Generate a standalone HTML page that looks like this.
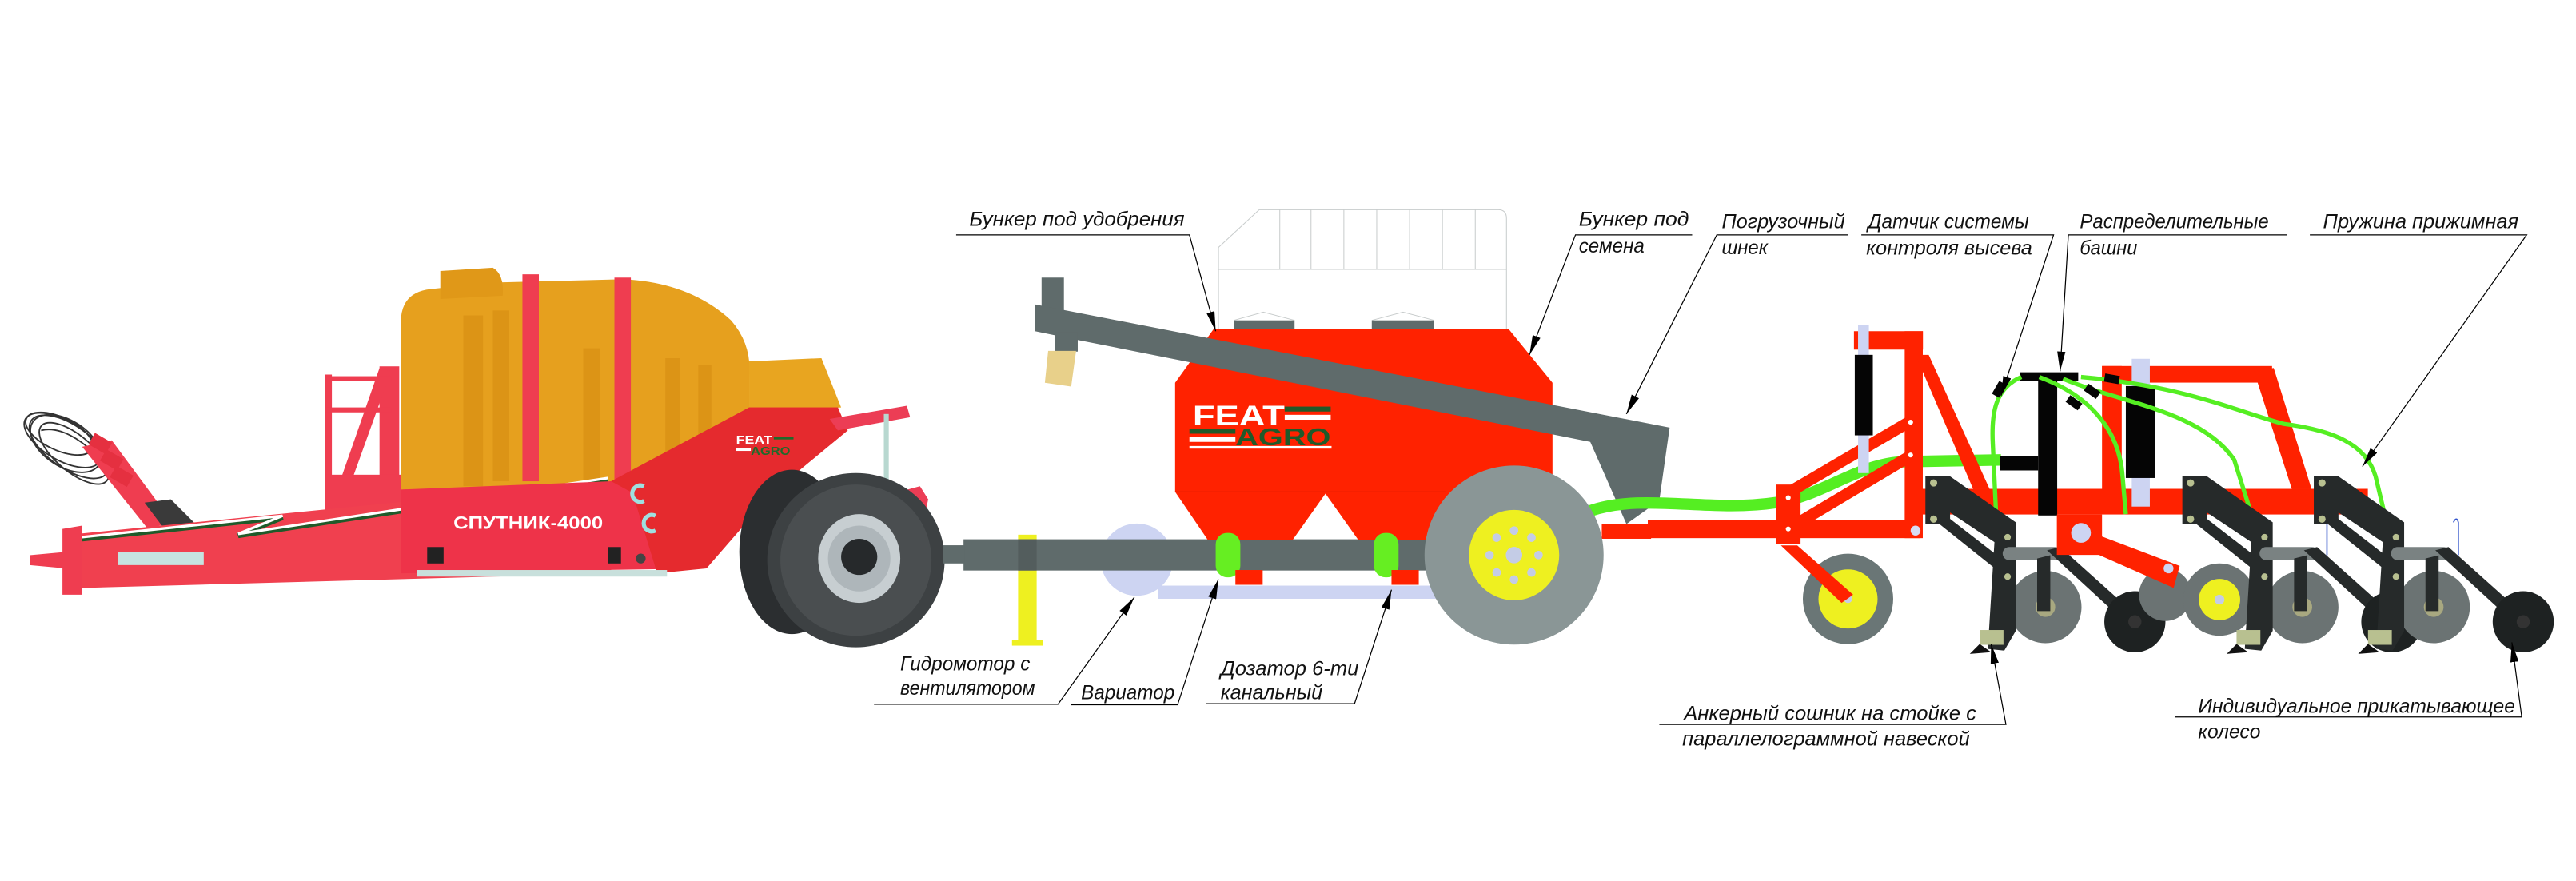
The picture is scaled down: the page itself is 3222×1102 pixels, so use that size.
<!DOCTYPE html>
<html><head><meta charset="utf-8">
<style>
html,body{margin:0;padding:0;background:#fff;}
svg{display:block;}
.t{font-family:"Liberation Sans",sans-serif;font-style:italic;font-size:12.3px;fill:#111;}
.l{stroke:#000;stroke-width:0.6;fill:none;}
</style></head><body>
<svg width="3222" height="1102" viewBox="0 0 1568 536.3" xmlns="http://www.w3.org/2000/svg">
<defs>
<marker id="a" viewBox="0 0 12 5" refX="12" refY="2.5" markerWidth="12" markerHeight="5" markerUnits="userSpaceOnUse" orient="auto"><path d="M0,0 L12,2.5 L0,5z" fill="#000"/></marker>
</defs>
<rect width="1568" height="536.3" fill="#fff"/>

<!-- ============ LEFT TRAILER ============ -->
<g fill="none" stroke="#333" stroke-width="0.9">
<ellipse cx="38" cy="268" rx="26" ry="12" transform="rotate(30 38 268)"/>
<ellipse cx="42" cy="272" rx="28" ry="13" transform="rotate(35 42 272)"/>
<ellipse cx="36" cy="264" rx="22" ry="10" transform="rotate(25 36 264)"/>
<ellipse cx="45" cy="276" rx="26" ry="11" transform="rotate(40 45 276)"/>
<ellipse cx="40" cy="270" rx="24" ry="14" transform="rotate(33 40 270)"/>
<path d="M25,262 C40,258 60,275 70,292"/>
</g>
<path d="M50,272 L68,268 L105,318 L90,322z" fill="#ef3d50"/>
<rect x="55" y="266" width="12" height="8" fill="#e53040" transform="rotate(30 61 270)"/>
<rect x="62" y="276" width="12" height="8" fill="#e53040" transform="rotate(30 68 280)"/>
<rect x="68" y="286" width="12" height="8" fill="#e53040" transform="rotate(30 74 290)"/>
<path d="M88,306 L104,304 L118,318 L100,322z" fill="#3a3a3a"/>

<!-- tank -->
<path d="M244,300 L244,196 Q244,178 262,176 L300,172 L380,170 Q420,172 445,195 Q458,210 456,230 L456,300z" fill="#e6a01e"/>
<path d="M268,165 L300,163 Q307,167 306,180 L268,182z" fill="#e09818"/>
<path d="M456,220 L500,218 L512,248 L456,252z" fill="#e8a520"/>
<g fill="#d88f14" opacity="0.7">
<rect x="282" y="192" width="12" height="104"/><rect x="300" y="189" width="10" height="104"/>
<rect x="355" y="212" width="10" height="84"/><rect x="405" y="218" width="9" height="76"/>
<rect x="425" y="222" width="8" height="72"/>
</g>
<rect x="318" y="167" width="10" height="126" fill="#ef3d50"/>
<rect x="374" y="169" width="10" height="124" fill="#ef3d50"/>

<!-- ladder -->
<g fill="#ef3d50">
<rect x="198" y="228" width="4" height="122"/>
<rect x="231" y="223" width="12" height="126"/>
<path d="M231,224 L238,226 L215,290 L208,290z"/>
<rect x="198" y="229" width="40" height="3"/>
<rect x="198" y="248" width="40" height="3"/>
<rect x="198" y="289" width="46" height="60"/>
</g>

<!-- drawbar -->
<path d="M47,325 L372,293 L372,349 L47,358z" fill="#f0404f"/>
<path d="M38,322 L50,320 L50,362 L38,362z" fill="#ef3d50"/>
<path d="M18,338 L40,336 L40,346 L18,344z" fill="#ef3d50"/>
<rect x="72" y="336" width="52" height="8" fill="#c6e3e0"/>
<path d="M50,328 L172,315 L145,326 L370,292" fill="none" stroke="#1f5a2a" stroke-width="3.2"/>
<path d="M50,327 L172,314 L145,325 L370,291" fill="none" stroke="#fff" stroke-width="1.6"/>

<!-- front red body -->
<path d="M244,298 L372,293 L456,248 L510,248 L516,262 L470,300 L430,346 L244,349z" fill="#ee3349"/>
<path d="M372,293 L456,248 L510,248 L516,262 L470,300 L430,346 L400,349 L385,300z" fill="#e52a2e"/>
<rect x="254" y="347" width="152" height="4" fill="#c8e0dc"/>
<rect x="260" y="333" width="10" height="10" fill="#222"/>
<rect x="370" y="333" width="8" height="10" fill="#222"/>
<circle cx="390" cy="340" r="3" fill="#444"/>
<path d="M392,296 a5,5 0 1,0 0,9" fill="none" stroke="#9fe0e0" stroke-width="2.5"/>
<path d="M399,314 a5,5 0 1,0 0,9" fill="none" stroke="#9fe0e0" stroke-width="2.5"/>
<text x="276" y="322" font-family="Liberation Sans,sans-serif" font-weight="bold" font-size="11" fill="#fff" textLength="91" lengthAdjust="spacingAndGlyphs">СПУТНИК-4000</text>
<text x="448" y="270" font-family="Liberation Sans,sans-serif" font-weight="bold" font-size="7" fill="#fff" textLength="22" lengthAdjust="spacingAndGlyphs">FEAT</text>
<text x="457" y="277" font-family="Liberation Sans,sans-serif" font-weight="bold" font-size="7" fill="#1f6a2a" textLength="24" lengthAdjust="spacingAndGlyphs">AGRO</text>
<rect x="471" y="266" width="12" height="1.5" fill="#1f6a2a"/><rect x="448" y="273" width="9" height="1.5" fill="#fff"/>
<path d="M505,255 L552,247 L554,254 L510,262z" fill="#ec3d55"/>
<rect x="538" y="252" width="3" height="48" fill="#b8d8d0"/>
<path d="M545,300 L560,296 L565,304 L562,318 L548,325z" fill="#ec3d55"/>
<!-- wheels -->
<ellipse cx="482" cy="336" rx="32" ry="50" fill="#2b2e30"/>
<ellipse cx="521" cy="341" rx="54" ry="53" fill="#3d4143"/>
<ellipse cx="521" cy="341" rx="46" ry="46" fill="#4a4e50"/>
<ellipse cx="523" cy="340" rx="25" ry="27" fill="#c7ced1"/>
<ellipse cx="523" cy="340" rx="19" ry="20" fill="#aeb6ba"/>
<circle cx="523" cy="339" r="11" fill="#26292b"/>
<rect x="574" y="332" width="14" height="10" fill="#5f6b6b"/>

<!-- ============ SEEDER ============ -->
<path d="M741.7,200.5 L741.7,150.6 L766.5,127.7 L912,127.7 Q917,127.7 917,133 L917,200.5z" fill="#fff" stroke="#c8cccc" stroke-width="0.5"/>
<g stroke="#c8cccc" stroke-width="0.5">
<line x1="741.7" y1="164" x2="917" y2="164"/>
<line x1="779" y1="127.7" x2="779" y2="164"/><line x1="798" y1="127.7" x2="798" y2="164"/>
<line x1="818" y1="127.7" x2="818" y2="164"/><line x1="838" y1="127.7" x2="838" y2="164"/>
<line x1="858" y1="127.7" x2="858" y2="164"/><line x1="878" y1="127.7" x2="878" y2="164"/>
<line x1="898" y1="127.7" x2="898" y2="164"/>
<path d="M751,195 L769,190 L788,195 M835,195 L854,190 L873,195" fill="none"/>
</g>
<rect x="751" y="195" width="37" height="6" fill="#5f6b6b"/>
<rect x="835" y="195" width="38" height="6" fill="#5f6b6b"/>
<circle cx="692" cy="340.7" r="22" fill="#cdd4f2"/>
<rect x="705" y="356.5" width="170" height="8" fill="#cdd4f2"/>
<rect x="619.7" y="325.5" width="11.3" height="66" fill="#eef020"/>
<rect x="616" y="389.6" width="18.6" height="3.4" fill="#eef020"/>
<rect x="586.5" y="328.3" width="285" height="19" fill="#5f6b6b"/>
<rect x="574" y="332" width="13" height="11" fill="#5f6b6b"/>
<rect x="619.7" y="328.3" width="11.3" height="19" fill="#535d5d"/>
<path d="M738.6,200.5 L918.5,200.5 L945,233 L945,305 L876,329 L827,329 L806.8,300.5 L786.6,329 L735.4,329 L715.3,299.4 L715.3,233z" fill="#ff2200"/>
<line x1="715.3" y1="299.4" x2="880" y2="299.4" stroke="#e81e00" stroke-width="0.6"/>
<rect x="724" y="243" width="86.5" height="30" fill="#ff2200"/>
<text x="726" y="259" font-family="Liberation Sans,sans-serif" font-weight="bold" font-size="17" fill="#fff" textLength="56" lengthAdjust="spacingAndGlyphs">FEAT</text>
<rect x="782" y="247.5" width="28" height="3" fill="#1f5a2a"/><rect x="782" y="252.5" width="28" height="3" fill="#fff"/>
<rect x="724" y="261" width="28" height="3" fill="#1f5a2a"/><rect x="724" y="266" width="28" height="3" fill="#fff"/>
<text x="752" y="271" font-family="Liberation Sans,sans-serif" font-weight="bold" font-size="15" fill="#1f5a2a" textLength="58" lengthAdjust="spacingAndGlyphs">AGRO</text>
<rect x="724" y="271.5" width="86.5" height="1.6" fill="#fff"/>
<rect x="634" y="169" width="13.6" height="20" fill="#5f6b6b"/>
<path d="M630,185.3 L1016.3,260.3 L1010,304.8 L990,319 L968,269 L656.3,207 L630,201.6z" fill="#5f6b6b"/>
<rect x="642" y="202" width="14" height="12" fill="#5f6b6b"/>
<path d="M638,213.6 L655,213.6 L652,235.3 L636,233z" fill="#e8d08a"/>
<rect x="740" y="324.4" width="15" height="27" rx="7" fill="#66ee22"/>
<rect x="836.3" y="324.4" width="15" height="27" rx="7" fill="#66ee22"/>
<rect x="752" y="347" width="16.6" height="9" fill="#ff2200"/>
<rect x="847" y="347" width="16.6" height="9" fill="#ff2200"/>
<path d="M968,311 C1000,300 1040,312 1081,306 C1110,302 1130,282 1160,281 L1218,280" fill="none" stroke="#55ee22" stroke-width="7"/>
<rect x="975" y="319" width="30" height="9" fill="#ff2200"/>
<rect x="1003" y="316.6" width="166" height="11" fill="#ff2200"/>
<circle cx="921.6" cy="337.9" r="54.5" fill="#8a9696"/>
<circle cx="921.6" cy="337.9" r="27.5" fill="#eef020"/>
<g fill="#c4cce6">
<circle cx="921.6" cy="337.9" r="5"/>
<circle cx="921.6" cy="323" r="2.6"/><circle cx="921.6" cy="352.8" r="2.6"/>
<circle cx="906.7" cy="337.9" r="2.6"/><circle cx="936.5" cy="337.9" r="2.6"/>
<circle cx="911" cy="327.3" r="2.6"/><circle cx="932.2" cy="327.3" r="2.6"/>
<circle cx="911" cy="348.5" r="2.6"/><circle cx="932.2" cy="348.5" r="2.6"/>
</g>

<!-- ============ PLANTER ============ -->
<g fill="#ff2200">
<rect x="1168.5" y="297.6" width="272.8" height="15.6"/>
<rect x="1159.4" y="201.6" width="11" height="126"/>
<rect x="1128.5" y="201.6" width="42" height="11.2"/>
<path d="M1166,216 L1174,216 L1211,297.6 L1201,297.6z"/>
<rect x="1081" y="295" width="15" height="36"/>
<rect x="1279.5" y="222.8" width="103.5" height="10.1"/>
<rect x="1279.5" y="222.8" width="12" height="77"/>
<path d="M1372,226 L1384,224 L1407,297.6 L1395,297.6z"/>
</g>
<g stroke="#ff2200" stroke-width="7">
<line x1="1088.5" y1="300" x2="1163" y2="256.3"/>
<line x1="1088.5" y1="322" x2="1163" y2="277.5"/>
</g>
<circle cx="1163" cy="257" r="1.5" fill="#fff"/><circle cx="1163" cy="277" r="1.5" fill="#fff"/>
<circle cx="1088.5" cy="303" r="1.5" fill="#fff"/><circle cx="1088.5" cy="322" r="1.5" fill="#fff"/>
<circle cx="1166" cy="323" r="3" fill="#d8dcf4"/>
<circle cx="1124.9" cy="364.6" r="27.5" fill="#6a7676"/>
<circle cx="1124.9" cy="364.6" r="18" fill="#eef020"/>
<circle cx="1124.9" cy="364.6" r="2.5" fill="#c4cce6"/>
<path d="M1084,332 L1094,332 L1128,362 L1121,367z" fill="#ff2200"/>
<rect x="1131" y="198" width="6.6" height="90" fill="#cdd4f2"/>
<rect x="1129" y="216" width="11" height="49" fill="#050505"/>
<rect x="1297.6" y="218.4" width="11" height="90" fill="#cdd4f2"/>
<rect x="1294" y="235" width="18" height="56" fill="#050505"/>
<rect x="1229.6" y="226.6" width="35.4" height="5.2" fill="#050505"/>
<rect x="1240.6" y="231.8" width="11.6" height="82" fill="#050505"/>
<path d="M1217.6,277.5 L1240.6,277.5 L1240.6,286.4 L1217.6,286.4z" fill="#050505"/>
<g fill="none" stroke="#55ee22" stroke-width="2.6">
<path d="M1230.4,229.5 C1215,236 1212,250 1213,270 L1215,313"/>
<path d="M1241.3,229.5 C1270,240 1290,260 1292,290 L1294,313"/>
<path d="M1255.8,230.6 C1290,245 1340,250 1360,280 L1370.4,313"/>
<path d="M1266.7,229.5 C1330,235 1360,250 1390,258 C1420,262 1440,270 1446,290 L1451.5,313"/>
</g>
<g fill="#050505">
<rect x="1213" y="234" width="9" height="5" transform="rotate(-60 1217.6 237.3)"/>
<rect x="1258" y="243" width="9" height="5" transform="rotate(35 1263 245.2)"/>
<rect x="1269" y="236" width="9" height="5" transform="rotate(35 1274 238.4)"/>
<rect x="1281" y="228" width="9" height="5" transform="rotate(10 1285 230.6)"/>
</g>
<g id="ru">
<circle cx="1245" cy="369.5" r="22" fill="#6b7373"/>
<circle cx="1245" cy="369.5" r="6" fill="#a8a880"/>
<path d="M1172,290 L1187,290 L1227,318 L1227,384 L1220,396 L1210,395 L1214,330 L1187,312 L1187,319 L1172,319z" fill="#262a2a"/>
<path d="M1178,317 L1182,312 L1222,343 L1218,349z" fill="#262a2a"/>
<rect x="1219" y="333" width="36" height="8" rx="4" fill="#7a8282"/>
<path d="M1246,335 L1254,333 L1302,376 L1296,381z" fill="#262a2a"/>
<path d="M1240,340 L1248,338 L1248,372 L1240,372z" fill="#262a2a"/>
<circle cx="1299.5" cy="378.5" r="18.6" fill="#1e2222"/>
<circle cx="1299.5" cy="378.5" r="4" fill="#333"/>
<rect x="1205" y="383.5" width="14.5" height="9" fill="#b8c090"/>
<path d="M1205,392 L1199,398 L1212,397z" fill="#111"/>
<circle cx="1177" cy="294" r="2.2" fill="#b8c090"/><circle cx="1177" cy="316" r="2.2" fill="#b8c090"/>
<circle cx="1222" cy="327" r="2" fill="#b8c090"/><circle cx="1222" cy="351" r="2" fill="#b8c090"/>
<path d="M1257,318 q2,-4 3,0 l0,20" fill="none" stroke="#3355cc" stroke-width="0.8"/>
</g>
<circle cx="1318" cy="362" r="16" fill="#6b7373"/>
<circle cx="1351" cy="365" r="22" fill="#6b7373"/>
<circle cx="1351" cy="365" r="12.6" fill="#eef020"/>
<circle cx="1351" cy="365" r="3" fill="#c4cce6"/>
<path d="M1252,313.2 L1279.5,313.2 L1279.5,326.6 L1326.8,344.5 L1323.1,357.9 L1277.6,337.8 L1252,337.8z" fill="#ff2200"/>
<circle cx="1266.7" cy="324.4" r="6" fill="#cdd4f2"/>
<circle cx="1320" cy="346" r="3" fill="#cdd4f2"/>
<use href="#ru" transform="translate(156.4 0)"/>
<use href="#ru" transform="translate(236.4 0)"/>

<!-- ============ LABELS ============ -->
<text class="t" x="590" y="137.5" textLength="131" lengthAdjust="spacingAndGlyphs">Бункер под удобрения</text>
<polyline class="l" points="582,143 724,143 740,201.6" marker-end="url(#a)"/>
<text class="t" x="961" y="137.5" textLength="67" lengthAdjust="spacingAndGlyphs">Бункер под</text>
<text class="t" x="961" y="153.8" textLength="40" lengthAdjust="spacingAndGlyphs">семена</text>
<polyline class="l" points="1030,143 959,143 931,216" marker-end="url(#a)"/>
<text class="t" x="1048" y="139" textLength="75" lengthAdjust="spacingAndGlyphs">Погрузочный</text>
<text class="t" x="1048" y="154.7" textLength="28" lengthAdjust="spacingAndGlyphs">шнек</text>
<polyline class="l" points="1125,143 1045,143 990,252" marker-end="url(#a)"/>
<text class="t" x="1137" y="139" textLength="98" lengthAdjust="spacingAndGlyphs">Датчик системы</text>
<text class="t" x="1136" y="155" textLength="101" lengthAdjust="spacingAndGlyphs">контроля высева</text>
<polyline class="l" points="1133,143 1250,143 1218,241" marker-end="url(#a)"/>
<text class="t" x="1266" y="139" textLength="115" lengthAdjust="spacingAndGlyphs">Распределительные</text>
<text class="t" x="1266" y="155" textLength="35" lengthAdjust="spacingAndGlyphs">башни</text>
<polyline class="l" points="1392,143 1259,143 1254,226" marker-end="url(#a)"/>
<text class="t" x="1414" y="139" textLength="119" lengthAdjust="spacingAndGlyphs">Пружина прижимная</text>
<polyline class="l" points="1406,143 1538,143 1438,284" marker-end="url(#a)"/>
<text class="t" x="548" y="408" textLength="79" lengthAdjust="spacingAndGlyphs">Гидромотор с</text>
<text class="t" x="548" y="423" textLength="82" lengthAdjust="spacingAndGlyphs">вентилятором</text>
<polyline class="l" points="532,428.7 644,428.7 690.5,363.5" marker-end="url(#a)"/>
<text class="t" x="658" y="425.5" textLength="57" lengthAdjust="spacingAndGlyphs">Вариатор</text>
<polyline class="l" points="652,429 716.8,429 741.6,352.6" marker-end="url(#a)"/>
<text class="t" x="743" y="411" textLength="84" lengthAdjust="spacingAndGlyphs">Дозатор 6-ти</text>
<text class="t" x="743" y="425.5" textLength="62" lengthAdjust="spacingAndGlyphs">канальный</text>
<polyline class="l" points="734,428.3 824.5,428.3 847,359" marker-end="url(#a)"/>
<text class="t" x="1025" y="438.2" textLength="178" lengthAdjust="spacingAndGlyphs">Анкерный сошник на стойке с</text>
<text class="t" x="1024" y="453.8" textLength="175" lengthAdjust="spacingAndGlyphs">параллелограммной навеской</text>
<polyline class="l" points="1010,441 1221,441 1212,392" marker-end="url(#a)"/>
<text class="t" x="1338" y="433.8" textLength="193" lengthAdjust="spacingAndGlyphs">Индивидуальное прикатывающее</text>
<text class="t" x="1338" y="449.4" textLength="38" lengthAdjust="spacingAndGlyphs">колесо</text>
<polyline class="l" points="1324,436.4 1535,436.4 1529,391" marker-end="url(#a)"/>
</svg>
</body></html>
